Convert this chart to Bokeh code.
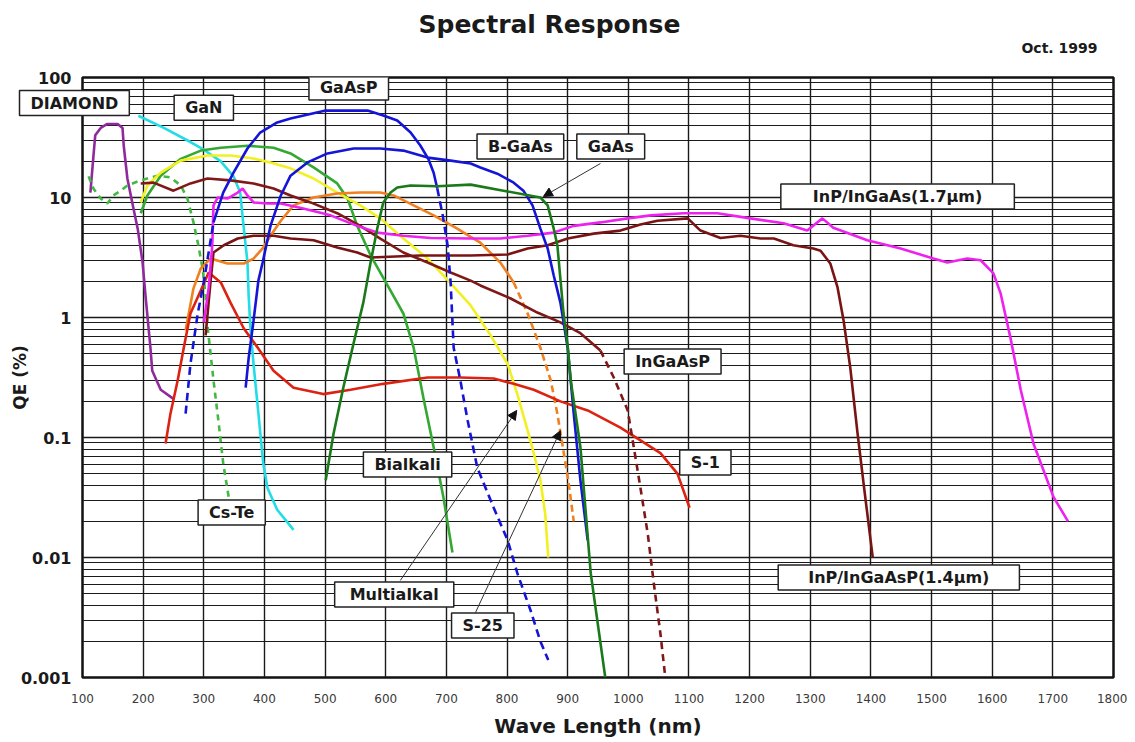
import math
from bokeh.plotting import figure
from bokeh.models import (Label, Arrow, NormalHead, FixedTicker, Title,
                          CustomJSTickFormatter, Range1d)
from bokeh.embed import file_html
from bokeh.resources import INLINE

# ---------------- data (wavelength nm, QE %) ----------------
x_ticks = [100, 200, 300, 400, 500, 600, 700, 800, 900, 1000,
           1100, 1200, 1300, 1400, 1500, 1600, 1700, 1800]
y_ticks = [0.001, 0.01, 0.1, 1, 10, 100]
y_tick_labels = ["0.001", "0.01", "0.1", "1", "10", "100"]

diamond_nm = [113, 118, 121, 130, 141, 158, 166, 168, 174, 182, 191, 199, 204, 209, 212, 215, 229, 250]
diamond_qe = [11, 22, 33, 38, 41, 41, 38, 27, 14.4, 9.1, 5.5, 2.9, 1.5, 0.81, 0.56, 0.36, 0.25, 0.21]

gan_nm = [192, 234, 278, 300, 328, 349, 360, 366, 372, 374, 377, 382, 390, 398, 405, 421, 448]
gan_qe = [48, 38, 29, 25, 20, 15, 11, 5.5, 2.9, 1.5, 0.81, 0.41, 0.16, 0.061, 0.038, 0.025, 0.017]

cste_nm = [110, 118, 130, 141, 151, 163, 174, 196, 224, 245, 262, 273, 283, 291, 298, 303, 306, 316, 324, 332, 341]
cste_qe = [15, 11.9, 9.8, 8.9, 10.4, 11.4, 12.6, 13.9, 15.2, 14.7, 12.6, 9.8, 6.2, 4.0, 2.56, 1.52, 0.86, 0.30, 0.139, 0.061, 0.032]

bialkali_nm = [196, 207, 229, 262, 295, 328, 372, 415, 443, 481, 520, 537, 553, 575, 603, 629, 646, 662, 679, 695, 710]
bialkali_qe = [7.4, 10.4, 15.2, 21, 24.6, 26, 27, 26, 23.3, 17.8, 13.1, 9.8, 5.8, 3.3, 1.85, 1.08, 0.56, 0.215, 0.083, 0.032, 0.011]

multialkali_nm = [196, 207, 229, 262, 306, 344, 382, 410, 443, 481, 520, 558, 591, 629, 669, 703, 740, 773, 801, 817, 834, 844, 855, 863, 868]
multialkali_qe = [9.1, 12.6, 16.1, 20.3, 22.4, 22.4, 21.1, 19.6, 17.5, 14.4, 11, 8.6, 6.7, 4.55, 3.1, 2.03, 1.26, 0.71, 0.41, 0.23, 0.114, 0.074, 0.044, 0.023, 0.010]

gaasp_rise_nm = [270, 278, 290, 300, 316]
gaasp_rise_qe = [0.158, 0.41, 1.08, 1.96, 6.2]
gaasp_main_nm = [316, 332, 349, 372, 393, 421, 443, 501, 570, 596, 619, 641, 657, 670, 679, 685]
gaasp_main_qe = [6.2, 11, 16.1, 25.6, 34.8, 42.2, 45.5, 53, 53, 48.2, 43.8, 34.8, 27.1, 21.1, 16.1, 11.9]
gaasp_tail_nm = [685, 694, 702, 707, 712, 723, 735, 751, 778, 801, 817, 839, 855, 868]
gaasp_tail_qe = [11.9, 7.1, 4.0, 1.96, 0.56, 0.30, 0.139, 0.056, 0.026, 0.0139, 0.0074, 0.0036, 0.0020, 0.0014]

bgaas_nm = [369, 374, 382, 390, 397, 410, 427, 443, 471, 504, 547, 591, 629, 669, 707, 740, 756, 784, 811, 827, 842, 855, 867, 877, 888, 900, 910, 921, 933]
bgaas_qe = [0.26, 0.46, 0.94, 2.03, 2.87, 5.8, 10.4, 15.2, 19.6, 23.3, 25.6, 25.6, 24.6, 21.5, 20.3, 19.2, 17.8, 15.8, 13.3, 11.4, 8.6, 5.5, 3.76, 2.24, 1.33, 0.56, 0.158, 0.044, 0.0139]

gaas_nm = [501, 514, 530, 547, 563, 575, 586, 596, 608, 619, 641, 685, 740, 794, 855, 867, 877, 883, 888, 893, 900, 905, 921, 938, 962]
gaas_qe = [0.044, 0.108, 0.26, 0.61, 1.33, 2.87, 5.5, 9.1, 11, 12.1, 12.6, 12.4, 12.8, 11.4, 10, 8.6, 5.5, 4.0, 2.1, 1.1, 0.58, 0.30, 0.083, 0.0074, 0.001]

s25_nm = [270, 283, 295, 311, 339, 366, 382, 397, 410, 427, 448, 481, 520, 558, 591, 613, 646, 679, 718, 740, 756, 789, 811]
s25_qe = [0.78, 1.75, 2.56, 3.1, 2.82, 2.82, 3.1, 3.76, 4.8, 6.4, 8.6, 10, 10.8, 11, 11, 10.4, 8.6, 7.1, 5.5, 4.7, 4.2, 2.87, 1.96]
s25_tail_nm = [811, 834, 855, 872, 883, 901, 910]
s25_tail_qe = [1.96, 1.08, 0.56, 0.30, 0.158, 0.044, 0.020]

s1_nm = [237, 245, 257, 267, 278, 295, 308, 328, 344, 366, 389, 415, 448, 497, 542, 596, 669, 723, 778, 811, 844, 888, 933, 987, 1053, 1081, 1101]
s1_qe = [0.089, 0.158, 0.30, 0.56, 1.08, 1.68, 2.37, 1.96, 1.33, 0.81, 0.56, 0.36, 0.26, 0.23, 0.25, 0.28, 0.316, 0.316, 0.31, 0.28, 0.25, 0.20, 0.168, 0.121, 0.074, 0.050, 0.026]

ingaasp_nm = [196, 217, 250, 278, 306, 344, 382, 415, 443, 476, 520, 558, 591, 629, 669, 707, 740, 756, 806, 850, 888, 921, 954]
ingaasp_qe = [13.1, 13.3, 11.4, 13.1, 14.4, 13.9, 13.1, 11.9, 10.4, 9.1, 7.4, 5.8, 4.55, 3.48, 2.87, 2.37, 2.03, 1.85, 1.44, 1.10, 0.91, 0.74, 0.53]
ingaasp_tail_nm = [954, 976, 999, 1009, 1020, 1032, 1042, 1053, 1061]
ingaasp_tail_qe = [0.53, 0.316, 0.168, 0.083, 0.038, 0.0158, 0.0061, 0.0023, 0.001]

inp14_nm = [303, 311, 316, 333, 356, 382, 415, 443, 481, 520, 553, 575, 657, 740, 801, 834, 867, 900, 943, 987, 1020, 1048, 1098, 1119, 1152, 1185, 1218, 1240, 1272, 1305, 1317, 1333, 1345, 1355, 1366, 1378, 1388, 1403]
inp14_qe = [0.71, 1.96, 3.48, 4.0, 4.55, 4.8, 4.8, 4.55, 4.4, 3.83, 3.48, 3.16, 3.29, 3.29, 3.35, 3.76, 4.0, 4.55, 5.0, 5.3, 5.96, 6.4, 6.7, 5.3, 4.6, 4.8, 4.55, 4.55, 4.0, 3.76, 3.6, 2.82, 1.78, 0.94, 0.38, 0.108, 0.041, 0.010]

inp17_nm = [300, 308, 314, 316, 323, 339, 356, 364, 372, 382, 405, 427, 464, 509, 553, 586, 629, 674, 740, 789, 834, 877, 910, 954, 999, 1037, 1091, 1147, 1201, 1256, 1295, 1320, 1338, 1394, 1449, 1503, 1526, 1559, 1581, 1602, 1614, 1630, 1647, 1668, 1701, 1725]
inp17_qe = [0.91, 1.75, 4.0, 8.6, 10, 9.8, 11, 11.9, 10.4, 9.1, 8.9, 8.9, 8.1, 7.1, 5.8, 5.1, 4.8, 4.6, 4.55, 4.55, 4.8, 5.1, 5.8, 6.2, 6.7, 7.1, 7.4, 7.4, 6.7, 6.1, 5.3, 6.7, 5.6, 4.4, 3.76, 3.1, 2.87, 3.1, 3.0, 2.33, 1.58, 0.68, 0.25, 0.089, 0.032, 0.020]

# callout labels inside the frame: (text, x nm, y QE)
label_texts = ["GaN", "GaAsP", "B-GaAs", "GaAs", "InP/InGaAs(1.7μm)",
               "InGaAsP", "S-1", "Bialkali", "Cs-Te", "Multialkal", "S-25",
               "InP/InGaAsP(1.4μm)"]
label_x = [300, 539, 822, 971, 1444, 1073, 1127, 636, 346, 614, 760, 1446]
label_y = [56, 82.5, 26.6, 26.6, 10.2, 0.43, 0.062, 0.0596, 0.0237, 0.00492, 0.00271, 0.0068]
title_text = "Spectral Response"
date_text = "Oct. 1999"
diamond_text = "DIAMOND"

# ---------------- figure ----------------
p = figure(width=1127, height=740, title=None,
           x_range=Range1d(100, 1800), y_range=Range1d(0.001, 100),
           y_axis_type="log", output_backend="svg", toolbar_location=None,
           min_border_left=82, min_border_right=14, min_border_top=77,
           min_border_bottom=63)
p.background_fill_color = "white"
p.border_fill_color = "white"
p.outline_line_color = "#111111"
p.outline_line_width = 2.5

minor = [m * 10.0 ** k for k in range(-3, 2) for m in range(2, 10)]
p.xgrid.ticker = FixedTicker(ticks=x_ticks)
p.ygrid.ticker = FixedTicker(ticks=y_ticks, minor_ticks=minor)
p.xgrid.grid_line_color = "#1a1a1a"
p.xgrid.grid_line_width = 1.4
p.ygrid.grid_line_color = "#1a1a1a"
p.ygrid.grid_line_width = 1.4
p.ygrid.minor_grid_line_color = "#1a1a1a"
p.ygrid.minor_grid_line_width = 1.2

p.xaxis.ticker = FixedTicker(ticks=x_ticks)
p.yaxis.ticker = FixedTicker(ticks=y_ticks, minor_ticks=[])
p.yaxis.formatter = CustomJSTickFormatter(
    args=dict(vals=y_ticks, labs=y_tick_labels),
    code="""
      for (let i = 0; i < vals.length; i++) {
        if (Math.abs(Math.log10(vals[i]) - Math.log10(tick)) < 1e-6) return labs[i];
      }
      return '';
    """)
for ax in (p.xaxis, p.yaxis):
    ax.axis_line_color = None
    ax.major_tick_line_color = None
    ax.minor_tick_line_color = None
    ax.major_tick_out = 0
    ax.major_tick_in = 0
    ax.minor_tick_out = 0
    ax.minor_tick_in = 0
p.xaxis.major_label_standoff = 16
p.xaxis.major_label_text_font = "DejaVu Sans"
p.xaxis.major_label_text_font_size = "12px"
p.xaxis.major_label_text_color = "#3a3a3a"
p.xaxis.axis_label = "Wave Length (nm)"
p.xaxis.axis_label_standoff = 8
p.xaxis.axis_label_text_font = "DejaVu Sans"
p.xaxis.axis_label_text_font_style = "bold"
p.xaxis.axis_label_text_font_size = "20px"
p.xaxis.axis_label_text_color = "#1a1a1a"

p.yaxis.major_label_standoff = 11
p.yaxis.major_label_text_font = "DejaVu Sans"
p.yaxis.major_label_text_font_style = "bold"
p.yaxis.major_label_text_font_size = "16px"
p.yaxis.major_label_text_color = "#1a1a1a"
p.yaxis.axis_label = "QE (%)"
p.yaxis.axis_label_standoff = -12
p.yaxis.axis_label_text_font = "DejaVu Sans"
p.yaxis.axis_label_text_font_style = "bold"
p.yaxis.axis_label_text_font_size = "17px"
p.yaxis.axis_label_text_color = "#1a1a1a"

LW = 2.6
p.line(diamond_nm, diamond_qe, line_color="#8e2a9c", line_width=LW)
p.line(gan_nm, gan_qe, line_color="#22dde6", line_width=LW)
p.line(cste_nm, cste_qe, line_color="#44b844", line_width=LW, line_dash="6 5")
p.line(bialkali_nm, bialkali_qe, line_color="#33a833", line_width=LW)
p.line(multialkali_nm, multialkali_qe, line_color="#f2f020", line_width=LW)
p.line(s25_nm, s25_qe, line_color="#f08020", line_width=LW)
p.line(s25_tail_nm, s25_tail_qe, line_color="#f08020", line_width=LW, line_dash="7 4")
p.line(s1_nm, s1_qe, line_color="#dd2211", line_width=LW)
p.line(ingaasp_nm, ingaasp_qe, line_color="#801818", line_width=LW)
p.line(ingaasp_tail_nm, ingaasp_tail_qe, line_color="#801818", line_width=LW, line_dash="7 5")
p.line(inp14_nm, inp14_qe, line_color="#7a1414", line_width=LW)
p.line(inp17_nm, inp17_qe, line_color="#ee22ee", line_width=LW)
p.line(gaasp_rise_nm, gaasp_rise_qe, line_color="#1515d8", line_width=LW, line_dash="8 5")
p.line(gaasp_main_nm, gaasp_main_qe, line_color="#1515d8", line_width=LW)
p.line(gaasp_tail_nm, gaasp_tail_qe, line_color="#1515d8", line_width=LW, line_dash="8 5")
p.line(bgaas_nm, bgaas_qe, line_color="#1515d8", line_width=LW)
p.line(gaas_nm, gaas_qe, line_color="#1a7a1a", line_width=LW)

# arrows: GaAs, Multialkal, S-25
arrow_start_x = [954, 624, 748]
arrow_start_y = [19.2, 0.00643, 0.00348]
arrow_end_x = [860, 816, 888]
arrow_end_y = [10.2, 0.168, 0.114]
for xs, ys, xe, ye in zip(arrow_start_x, arrow_start_y, arrow_end_x, arrow_end_y):
    p.add_layout(Arrow(end=NormalHead(size=9, fill_color="#111111", line_color="#111111"),
                       x_start=xs, y_start=ys, x_end=xe, y_end=ye,
                       line_color="#333333", line_width=1))

wide_pad = {"InP/InGaAs(1.7μm)": 32, "InP/InGaAsP(1.4μm)": 30, "Multialkal": 15}
for t, lx, ly in zip(label_texts, label_x, label_y):
    hp = wide_pad.get(t, 11)
    common = dict(x=lx, y=ly, text=t, text_align="center", text_baseline="middle",
                  text_font="DejaVu Sans", text_font_style="bold",
                  text_font_size="16px", padding=dict(left=hp, right=hp, top=3, bottom=3))
    p.add_layout(Label(x_offset=3, y_offset=-3, text_alpha=0,
                       background_fill_color="#8a8a8a", **common))
    p.add_layout(Label(text_color="#1a1a1a", background_fill_color="white",
                       border_line_color="#222222", border_line_width=1.5, **common))

# texts outside the frame: side-panel titles (not clipped to the frame)
tfont = dict(text_font="DejaVu Sans", text_font_style="bold")
dpad = dict(left=11, right=11, top=3, bottom=3)
p.add_layout(Title(text=diamond_text, align="left", offset=-60, vertical_align="bottom",
                   standoff=-82, text_font_size="16px", text_alpha=0, padding=dpad,
                   background_fill_color="#8a8a8a", **tfont), "above")
p.add_layout(Title(text=diamond_text, align="left", offset=-63, vertical_align="bottom",
                   standoff=-76, text_font_size="16px", text_color="#1a1a1a", padding=dpad,
                   background_fill_color="white", border_line_color="#222222",
                   border_line_width=1.5, **tfont), "above")
p.add_layout(Title(text=date_text, align="right", offset=16, vertical_align="top",
                   standoff=-76, text_font_size="14px", text_color="#1a1a1a", **tfont), "above")
p.add_layout(Title(text=title_text, align="left", offset=336, vertical_align="top",
                   standoff=-136, text_font_size="25px", text_color="#1a1a1a", **tfont), "above")

open("out.html", "w").write(file_html(p, INLINE))
